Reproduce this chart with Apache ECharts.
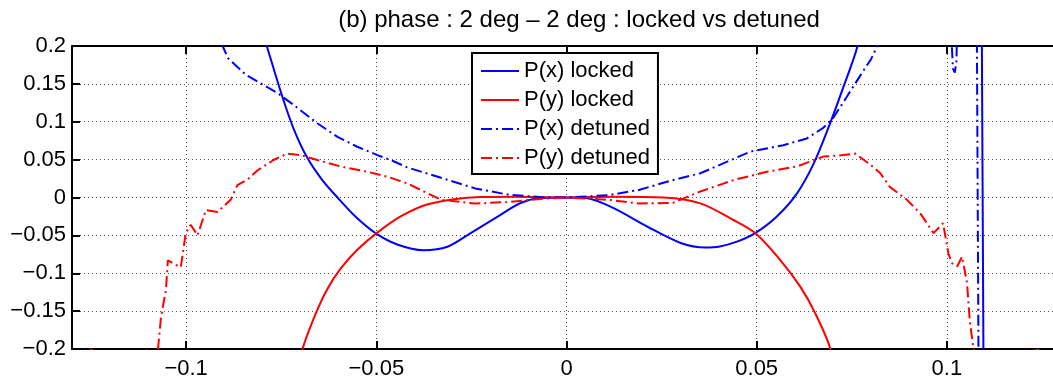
<!DOCTYPE html>
<html>
<head>
<meta charset="utf-8">
<script src="https://cdn.jsdelivr.net/npm/echarts@6/dist/echarts.min.js"></script>
<style>
  html, body { margin: 0; padding: 0; background: #fff; }
  #chart { width: 1053px; height: 383px; }
</style>
</head>
<body>
<div id="chart"></div>
<script>
// tick values
const xTicks = [-0.1, -0.05, 0, 0.05, 0.1];
const seriesNames = ['P(x) locked', 'P(y) locked', 'P(x) detuned', 'P(y) detuned'];

// P(x) locked (blue solid) - leaves the top near +-0.08 and comes back at ~0.109
const pxLocked = [
  [-0.0825, 0.26], [-0.0788, 0.2], [-0.0747, 0.133], [-0.0716, 0.089], [-0.0681, 0.052],
  [-0.0642, 0.023], [-0.0602, 0], [-0.0555, -0.025], [-0.0502, -0.047], [-0.0445, -0.062],
  [-0.0376, -0.0695], [-0.0313, -0.065], [-0.0252, -0.047], [-0.0181, -0.0253],
  [-0.0121, -0.0073], [-0.0068, -0.0007], [0, 0], [0.0055, -0.001], [0.0124, -0.014],
  [0.0213, -0.0386], [0.030, -0.060], [0.0365, -0.066], [0.040, -0.065], [0.045, -0.058],
  [0.0496, -0.047], [0.0553, -0.025], [0.0606, 0.0055], [0.065, 0.045],
  [0.0693, 0.098], [0.0728, 0.146], [0.0765, 0.2], [0.0785, 0.26], [0.082, 0.6],
  [0.1086, 0.6], [0.1092, 0.2], [0.1096, -0.2], [0.1098, -0.3]
];

// P(y) locked (red solid)
const pyLocked = [
  [-0.0715, -0.25], [-0.0694, -0.2], [-0.0659, -0.153], [-0.0629, -0.121], [-0.0594, -0.094],
  [-0.055, -0.069], [-0.0499, -0.047], [-0.0436, -0.025], [-0.0362, -0.0086],
  [-0.0226, 0.0005], [-0.014, 0.001], [0, 0], [0.0124, 0.001], [0.0255, 0],
  [0.0352, -0.0077], [0.0439, -0.0297], [0.0496, -0.047], [0.0562, -0.0826],
  [0.0615, -0.118], [0.0654, -0.153], [0.0693, -0.199], [0.071, -0.25]
];

// P(x) detuned (blue dash-dot)
const pxDetuned = [
  [-0.0915, 0.23], [-0.0904, 0.2], [-0.089, 0.184], [-0.0843, 0.162], [-0.076, 0.138],
  [-0.0717, 0.122], [-0.0655, 0.098], [-0.0602, 0.080], [-0.055, 0.067], [-0.0497, 0.056],
  [-0.0462, 0.0495], [-0.042, 0.040], [-0.033, 0.026], [-0.024, 0.012], [-0.0156, 0.004],
  [-0.007, 0.0005], [0, 0], [0.011, 0.003], [0.019, 0.01], [0.028, 0.023], [0.0352, 0.032],
  [0.0483, 0.0605], [0.057, 0.069], [0.0632, 0.078], [0.0675, 0.092], [0.0701, 0.105],
  [0.0737, 0.133], [0.0785, 0.171], [0.08, 0.182], [0.0817, 0.2], [0.083, 0.23], [0.09, 2],
  [0.1010, 2], [0.1013, 0.2], [0.1016, 0.17], [0.1021, 0.165], [0.1025, 0.18], [0.1026, 0.2],
  [0.103, 2], [0.1077, 2], [0.1079, 0.2], [0.1083, -0.2], [0.1084, -0.3]
];

// P(y) detuned (red dash-dot)
const pyDetuned = [
  [-0.13, -0.23], [-0.125, -0.2005], [-0.118, -0.23], [-0.110, -0.2005], [-0.1082, -0.215],
  [-0.1074, -0.2], [-0.1066, -0.158], [-0.1053, -0.122], [-0.1048, -0.083], [-0.1027, -0.089],
  [-0.1014, -0.092], [-0.1001, -0.047], [-0.0988, -0.036], [-0.097, -0.05], [-0.0948, -0.0165],
  [-0.0917, -0.019], [-0.0883, -0.003], [-0.0865, 0.0165], [-0.0838, 0.024], [-0.0812, 0.036],
  [-0.077, 0.0495], [-0.0734, 0.058], [-0.0699, 0.056], [-0.0655, 0.0495], [-0.0594, 0.041],
  [-0.0524, 0.034], [-0.0471, 0.0275], [-0.042, 0.019], [-0.033, -0.003], [-0.024, -0.008],
  [-0.0156, -0.006], [-0.007, -0.002], [0, 0], [0.011, -0.003], [0.019, -0.008], [0.028, -0.007],
  [0.0352, 0.008], [0.0439, 0.023], [0.0527, 0.034], [0.0606, 0.041], [0.0675, 0.054],
  [0.0728, 0.056], [0.0759, 0.058], [0.08, 0.043], [0.0825, 0.032], [0.085, 0.014],
  [0.0895, -0.003], [0.093, -0.021], [0.0965, -0.047], [0.099, -0.034], [0.1004, -0.074],
  [0.1014, -0.087], [0.1027, -0.091], [0.104, -0.078], [0.1053, -0.113], [0.106, -0.162],
  [0.107, -0.2], [0.108, -0.23], [0.124, -0.2005], [0.128, -0.23]
];

const FONT = "'Liberation Sans', Arial, Helvetica, sans-serif";
const dashDot = [11, 4, 2, 4];

function fmt(v) {
  const r = Math.round(v * 100) / 100;
  return r < 0 ? '\u2212' + String(-r) : String(r === 0 ? 0 : r);
}

const chart = echarts.init(document.getElementById('chart'), null, { renderer: 'canvas' });

const axisLine = { show: true, onZero: false, lineStyle: { color: '#000', width: 2 } };
const tickStyle = { show: true, inside: true, length: 8, lineStyle: { color: '#000', width: 2 } };
const gridDots = { show: true, lineStyle: { color: '#555', width: 1, type: [1, 3] } };

const option = {
  animation: false,
  backgroundColor: '#fff',
  title: {
    text: '(b) phase : 2 deg \u2013 2 deg : locked vs detuned',
    left: 574,
    textAlign: 'center',
    top: 3,
    textStyle: { fontFamily: FONT, fontSize: 24, fontWeight: 'normal', color: '#000' }
  },
  grid: { left: 72, right: -8, top: 46, bottom: 34, outerBoundsMode: 'none' },
  legend: {
    data: seriesNames,
    orient: 'vertical',
    left: 472,
    top: 53,
    padding: [7, 8, 5, 8],
    itemWidth: 38,
    itemHeight: 14,
    itemGap: 7,
    borderColor: '#000',
    borderWidth: 2,
    borderRadius: 0,
    backgroundColor: '#fff',
    itemStyle: { opacity: 0 },
    textStyle: { fontFamily: FONT, fontSize: 22, color: '#000' }
  },
  xAxis: [
    {
      type: 'value', position: 'bottom', min: -0.13, max: 0.13,
      axisLine: axisLine,
      axisTick: Object.assign({ customValues: xTicks }, tickStyle),
      axisLabel: { customValues: xTicks, formatter: fmt, margin: 9, fontFamily: FONT, fontSize: 22, color: '#000' },
      splitLine: gridDots
    },
    {
      type: 'value', position: 'top', min: -0.13, max: 0.13,
      axisLine: axisLine,
      axisTick: Object.assign({ customValues: xTicks }, tickStyle),
      axisLabel: { show: false },
      splitLine: { show: false }
    }
  ],
  yAxis: [
    {
      type: 'value', position: 'left', min: -0.2, max: 0.2, interval: 0.05,
      axisLine: axisLine,
      axisTick: tickStyle,
      axisLabel: { formatter: fmt, margin: 6, fontFamily: FONT, fontSize: 22, color: '#000' },
      splitLine: gridDots
    },
    {
      type: 'value', position: 'right', min: -0.2, max: 0.2, interval: 0.05,
      axisLine: axisLine,
      axisTick: tickStyle,
      axisLabel: { show: false },
      splitLine: { show: false }
    }
  ],
  series: [
    { name: seriesNames[0], data: pxLocked, color: '#0000ff', smooth: 0.3, lineStyle: { width: 2, type: 'solid' } },
    { name: seriesNames[1], data: pyLocked, color: '#ff0000', smooth: 0.3, lineStyle: { width: 2, type: 'solid' } },
    { name: seriesNames[2], data: pxDetuned, color: '#0000ff', lineStyle: { width: 2, type: dashDot } },
    { name: seriesNames[3], data: pyDetuned, color: '#ff0000', lineStyle: { width: 2, type: dashDot } }
  ].map(s => Object.assign({
    type: 'line', xAxisIndex: 0, yAxisIndex: 0, showSymbol: false, symbol: 'none',
    clip: true
  }, s))
};

chart.setOption(option);
</script>
</body>
</html>
